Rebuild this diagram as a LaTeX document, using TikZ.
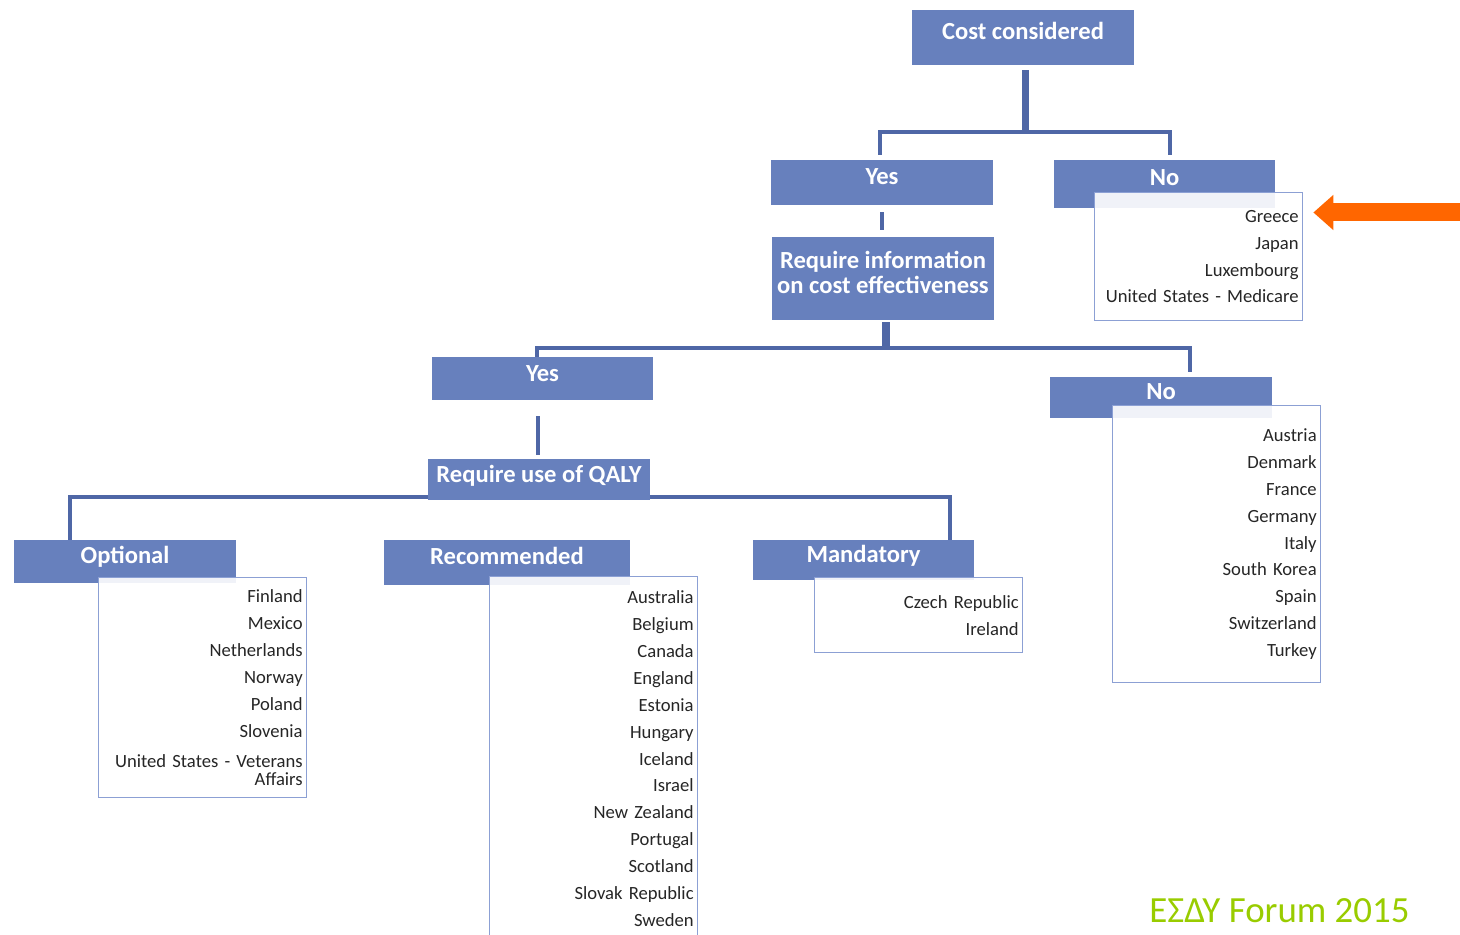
\documentclass[tikz,border=0pt]{standalone}
\usepackage{fontspec}
\setmainfont{Carlito}
\usetikzlibrary{arrows.meta, positioning, calc}

\definecolor{hdrblue}{RGB}{103,128,189}
\definecolor{linkblue}{RGB}{79,103,166}
\definecolor{listedge}{RGB}{140,160,212}
\definecolor{arrorange}{RGB}{255,102,0}
\definecolor{forumgreen}{RGB}{153,204,0}

\tikzset{
  hdrbox/.style={rectangle, fill=hdrblue, text=white, font=\bfseries\fontsize{14}{16}\selectfont, inner xsep=0pt, inner ysep=0pt},
  hdr/.style n args={3}{hdrbox, minimum width=#1, text height=#2, text depth=#3},
  clist/.style={rectangle, anchor=north west, draw=listedge, line width=0.8pt, fill=white, fill opacity=0.9, text opacity=1, text=black!85, font=\fontsize{10.6}{15.3}\selectfont, align=right, inner xsep=0.08cm, inner ysep=0pt, text width=4.0cm, minimum height=#1},
  link/.style={draw=linkblue, line width=2.3pt},
  trunk/.style={draw=linkblue, line width=4pt},
}

\begin{document}
\begin{tikzpicture}[x=0.02cm, y=-0.02cm]
    \useasboundingbox (0,0) rectangle (1460,935);

    % decision boxes
    \node[hdr={4.44cm}{0.59cm}{0.51cm}] (cost) at (1023,37.5) {Cost considered};
    \node[hdr={4.44cm}{0.49cm}{0.41cm}] (yes1) at (882,182.5) {Yes};
    \node[hdr={4.42cm}{0.52cm}{0.44cm}] (no1) at (1164.5,184) {No};
    \node[hdrbox, minimum width=4.44cm, minimum height=1.66cm, align=center, font=\bfseries\fontsize{14}{14.5}\selectfont] (reqinfo) at (883,278.5) {Require information\\on cost effectiveness\\[-7.7pt]\mbox{}};
    \node[hdr={4.42cm}{0.49cm}{0.37cm}] (yes2) at (542.5,378.5) {Yes};
    \node[hdr={4.44cm}{0.45cm}{0.37cm}] (no2) at (1161,397.5) {No};
    \node[hdr={4.44cm}{0.47cm}{0.35cm}] (qaly) at (539,479.5) {Require use of QALY};
    \node[hdr={4.44cm}{0.47cm}{0.39cm}] (opt) at (125,561.5) {Optional};
    \node[hdr={4.92cm}{0.49cm}{0.41cm}] (rec) at (507,562.5) {Recommended};
    \node[hdr={4.42cm}{0.46cm}{0.34cm}] (mand) at (863.5,560) {Mandatory};

    % country lists
    \node[clist=2.56cm] (nolist1) at (1094,192) {Greece\\Japan\\Luxembourg\\United States - Medicare};
    \node[clist=5.54cm] (nolist2) at (1112,405) {Austria\\Denmark\\France\\Germany\\Italy\\South Korea\\Spain\\Switzerland\\Turkey};
    \node[clist=4.4cm] (optlist) at (98,577) {Finland\\Mexico\\Netherlands\\Norway\\Poland\\Slovenia\\[2pt]United States - Veterans\\[-5pt]Affairs};
    \node[clist=7.28cm] (reclist) at (489,576) {Australia\\Belgium\\Canada\\England\\Estonia\\Hungary\\Iceland\\Israel\\New Zealand\\Portugal\\Scotland\\Slovak Republic\\Sweden};
    \node[clist=1.5cm] (mandlist) at (814,577) {Czech Republic\\Ireland};

    % connectors
    \coordinate (j1) at (1025,132);
    \draw[trunk, shorten <=0.1cm] (cost.south -| j1) -- (j1);
    \draw[link, shorten >=0.1cm] (j1) -| ($(yes1.north)+(-2,0)$);
    \draw[link, shorten >=0.1cm] (j1) -| ($(no1.north)+(5.5,0)$);
    \draw[link, shorten <=0.14cm, shorten >=0.14cm] (yes1.south) -- (yes1.south |- reqinfo.north);

    \coordinate (j2) at (886,348);
    \draw[trunk, shorten <=0.04cm] (reqinfo.south -| j2) -- (j2);
    \draw[link] (j2) -| ($(yes2.north)+(-5.5,0)$);
    \draw[link, shorten >=0.1cm] (j2) -| ($(no2.north)+(29,0)$);
    \draw[link, shorten <=0.32cm, shorten >=0.08cm] ($(yes2.south)+(-4.5,0)$) -- ($(qaly.north)+(-1,0)$);

    \coordinate (j3) at (539,497);
    \draw[link] ($(opt.north)+(-55,0)$) |- (qaly.west |- j3);
    \draw[link] (qaly.east |- j3) -| ($(mand.north)+(86.5,0)$);

    % pointer
    \coordinate (arrS) at (1475,212.5);
    \draw[draw=arrorange, line width=0.36cm, -{Triangle[length=0.4cm,width=0.68cm]}, shorten >=0.2cm] (arrS) -- (arrS -| nolist1.east);

    \node[font=\fontsize{21}{25}\selectfont, text=forumgreen, anchor=base west, inner sep=0pt] (forum) at (1149,922) {ΕΣΔΥ Forum 2015};
\end{tikzpicture}
\end{document}
